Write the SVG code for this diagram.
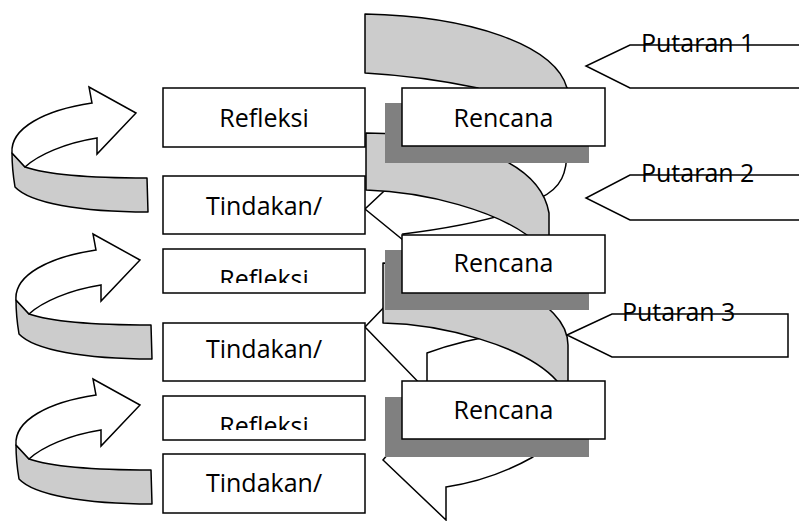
<svg xmlns="http://www.w3.org/2000/svg" xmlns:xlink="http://www.w3.org/1999/xlink" width="799" height="521" viewBox="0 0 799 521">
<style>
.box{fill:#fff;stroke:#000;stroke-width:1.5}
.shadow{fill:#808080}
.band{fill:#ccc;stroke:#000;stroke-width:1.5;stroke-linejoin:round}
.face{fill:#fff;stroke:#000;stroke-width:1.5;stroke-linejoin:miter}
.lbl{font-family:"Open Sans","Liberation Sans",sans-serif;font-size:25px;fill:#000}
.mid{text-anchor:middle}
.callout{fill:none;stroke:#000;stroke-width:1.5}
</style>
<defs>
<clipPath id="clipR2"><rect x="163" y="249" width="202" height="34"/></clipPath>
<clipPath id="clipR3"><rect x="163" y="396" width="202" height="34"/></clipPath>
<g id="curl">
<path class="band" d="M 12,153 L 25,167 C 45,174 90,178 147,178 L 148,212 C 80,212 30,203 15,187 C 13,175 12,165 12,153 Z"/>
<path class="face" d="M 12,153 C 10,128 45,110 92,103 L 89,87 L 136,113 L 97,154 L 97,138 C 65,143 38,155 25,167 Z"/>
</g>
</defs>

<g id="connectors">
<use xlink:href="#curl"/>
<use xlink:href="#curl" transform="translate(4,147)"/>
<use xlink:href="#curl" transform="translate(4,292)"/>
<path class="face" d="M 567,88 L 567,150 C 567,172 562,188 540,198 L 520,210 Q 470,226 403,234 L 414,249 L 365,209 L 398,178 C 430,150 500,110 567,88 Z"/>
<path class="face" d="M 540,300 L 505,334 Q 462,340 427,353 L 427,391 L 365,327 L 390,301 Z"/>
<path class="face" d="M 545,440 L 533,457 C 510,470 480,482 446,487 L 446,520 L 383,460 L 400,440 Z"/>
<path class="band" d="M 365,14 C 470,16 555,45 567,88 L 567,120 L 478,120 L 478,88 C 440,80 400,75 365,73 Z"/>
<path class="band" d="M 366,133 C 460,134 540,160 549,213 L 549,245 L 527,245 L 527,235 C 495,212 430,192 366,190 Z"/>
<path class="band" d="M 383,263 C 485,263 568,300 568,345 L 568,392 L 557,392 L 557,381 C 525,345 440,324 383,323 Z"/>
</g>

<g id="rencana1">
<rect class="shadow" x="385" y="103" width="204" height="60"/>
<rect class="box" x="402" y="88" width="203" height="58"/>
<text class="lbl mid" x="503.5" y="127">Rencana</text>
</g>
<g id="rencana2">
<rect class="shadow" x="385" y="250" width="204" height="60"/>
<rect class="box" x="402" y="235" width="203" height="58"/>
<text class="lbl mid" x="503.5" y="272">Rencana</text>
</g>
<g id="rencana3">
<rect class="shadow" x="385" y="397" width="204" height="60"/>
<rect class="box" x="402" y="381" width="203" height="58"/>
<text class="lbl mid" x="503.5" y="419">Rencana</text>
</g>

<g id="refleksi1">
<rect class="box" x="163" y="88" width="202" height="59"/>
<text class="lbl mid" x="264" y="127">Refleksi</text>
</g>
<g id="tindakan1">
<rect class="box" x="163" y="176" width="202" height="58"/>
<text class="lbl mid" x="264" y="215">Tindakan/</text>
</g>
<g id="refleksi2">
<rect class="box" x="163" y="249" width="202" height="44"/>
<text class="lbl mid" x="264" y="288" clip-path="url(#clipR2)">Refleksi</text>
</g>
<g id="tindakan2">
<rect class="box" x="163" y="323" width="202" height="58"/>
<text class="lbl mid" x="264" y="358">Tindakan/</text>
</g>
<g id="refleksi3">
<rect class="box" x="163" y="396" width="202" height="44"/>
<text class="lbl mid" x="264" y="435" clip-path="url(#clipR3)">Refleksi</text>
</g>
<g id="tindakan3">
<rect class="box" x="163" y="454" width="202" height="59"/>
<text class="lbl" x="264" y="492" text-anchor="middle">Tindakan/</text>
</g>

<g id="putaran1">
<text class="lbl" x="641" y="52">Putaran 1</text>
<path class="callout" d="M 800,45 L 630,45 L 586,66 L 630,88 L 800,88"/>
</g>
<g id="putaran2">
<text class="lbl" x="641" y="182">Putaran 2</text>
<path class="callout" d="M 800,175 L 630,175 L 586,198 L 630,220 L 800,220"/>
</g>
<g id="putaran3">
<text class="lbl" x="622" y="321">Putaran 3</text>
<path class="callout" d="M 567,335 L 612,314 L 788,314 L 788,357 L 612,357 Z"/>
</g>
</svg>
